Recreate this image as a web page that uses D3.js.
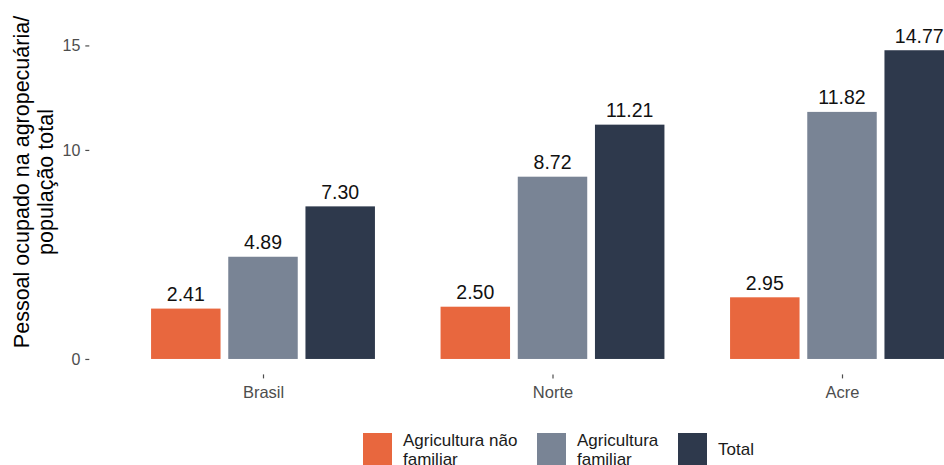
<!DOCTYPE html>
<html>
<head>
<meta charset="utf-8">
<script src="https://cdn.jsdelivr.net/npm/d3@7"></script>
<style>
  html, body { margin: 0; padding: 0; background: #fff; }
  svg { display: block; font-family: "Liberation Sans", Arial, sans-serif; }
</style>
</head>
<body>
<svg id="chart" width="944" height="465"></svg>
<script>
// Regions shown along the x axis
const regions = ["Brasil", "Norte", "Acre"];
// Series (one bar per series inside each region)
const seriesKeys = ["naoFamiliar", "familiar", "total"];
const seriesLabels = [["Agricultura não", "familiar"], ["Agricultura", "familiar"], ["Total"]];
const seriesColors = ["#e8673e", "#798495", "#2e394c"];
// Persons employed in agriculture / total population
const naoFamiliar = [2.41, 2.50, 2.95];
const familiar = [4.89, 8.72, 11.82];
const total = [7.30, 11.21, 14.77];
const yTicks = [0, 10, 15];

const rows = regions.map((r, i) => ({
  region: r,
  values: [naoFamiliar[i], familiar[i], total[i]]
}));

const svg = d3.select("#chart");

// Panel geometry (the panel continues past the right edge of the page)
const panel = { left: 89.3, right: 1015.7 };
const yMax = d3.max(total);
const y = d3.scaleLinear()
  .domain([-0.05 * yMax, 1.05 * yMax])
  .range([374.4, 34.8]);

const x = d3.scalePoint()
  .domain(regions)
  .range([panel.left, panel.right])
  .padding(0.6);

const step = x.step();
const xInner = d3.scaleBand()
  .domain(seriesKeys)
  .range([-0.4 * step, 0.4 * step])
  .paddingInner(0.1)
  .paddingOuter(0.05);

// Bars
const groups = svg.append("g")
  .selectAll("g")
  .data(rows)
  .join("g")
  .attr("transform", d => `translate(${x(d.region)},0)`);

groups.selectAll("rect")
  .data(d => d.values.map((v, i) => ({ key: seriesKeys[i], v, i })))
  .join("rect")
  .attr("x", d => xInner(d.key))
  .attr("width", xInner.bandwidth())
  .attr("y", d => y(d.v))
  .attr("height", d => y(0) - y(d.v))
  .attr("fill", d => seriesColors[d.i]);

// Value labels
groups.selectAll("text.val")
  .data(d => d.values.map((v, i) => ({ key: seriesKeys[i], v, i })))
  .join("text")
  .attr("class", "val")
  .attr("x", d => xInner(d.key) + xInner.bandwidth() / 2)
  .attr("y", d => y(d.v) - 7.5)
  .attr("text-anchor", "middle")
  .attr("font-size", 19.5)
  .attr("fill", "#111")
  .text(d => d.v.toFixed(2));

// Y axis
const yAxis = svg.append("g")
  .attr("transform", `translate(${panel.left},0)`)
  .call(d3.axisLeft(y).tickValues(yTicks).tickSize(4).tickPadding(5).tickFormat(d3.format("d")));
yAxis.select(".domain").remove();
yAxis.selectAll(".tick line").attr("stroke", "#4d4d4d").attr("stroke-width", 1.2);
yAxis.selectAll(".tick text").attr("fill", "#4d4d4d").attr("font-size", 16)
  .attr("font-family", "'Liberation Sans', Arial, sans-serif");

// X axis
const xAxis = svg.append("g")
  .attr("transform", `translate(0,${y.range()[0]})`)
  .call(d3.axisBottom(x).tickSize(4).tickPadding(8));
xAxis.select(".domain").remove();
xAxis.selectAll(".tick line").attr("stroke", "#4d4d4d").attr("stroke-width", 1.2);
xAxis.selectAll(".tick text").attr("fill", "#4d4d4d").attr("font-size", 16.5)
  .attr("font-family", "'Liberation Sans', Arial, sans-serif");

// Y axis title (two lines)
const yTitle = svg.append("text")
  .attr("transform", "translate(0,182) rotate(-90)")
  .attr("text-anchor", "middle")
  .attr("font-size", 21.5)
  .attr("fill", "#000");
yTitle.append("tspan").attr("x", 0).attr("y", 29).text("Pessoal ocupado na agropecuária/");
yTitle.append("tspan").attr("x", 0).attr("y", 53).text("população total");

// Legend
const legendX = [363, 537, 678];
const legend = svg.append("g");
seriesKeys.forEach((k, i) => {
  const g = legend.append("g").attr("transform", `translate(${legendX[i]},433)`);
  g.append("rect")
    .attr("width", 29).attr("height", 34)
    .attr("fill", seriesColors[i]);
  const lines = seriesLabels[i];
  const t = g.append("text")
    .attr("font-size", 17)
    .attr("fill", "#1a1a1a");
  const lh = 19;
  const start = 18 - (lines.length - 1) * lh / 2;
  lines.forEach((ln, j) => {
    t.append("tspan")
      .attr("x", 40)
      .attr("y", start + j * lh)
      .attr("dominant-baseline", "middle")
      .text(ln);
  });
});
</script>
</body>
</html>
